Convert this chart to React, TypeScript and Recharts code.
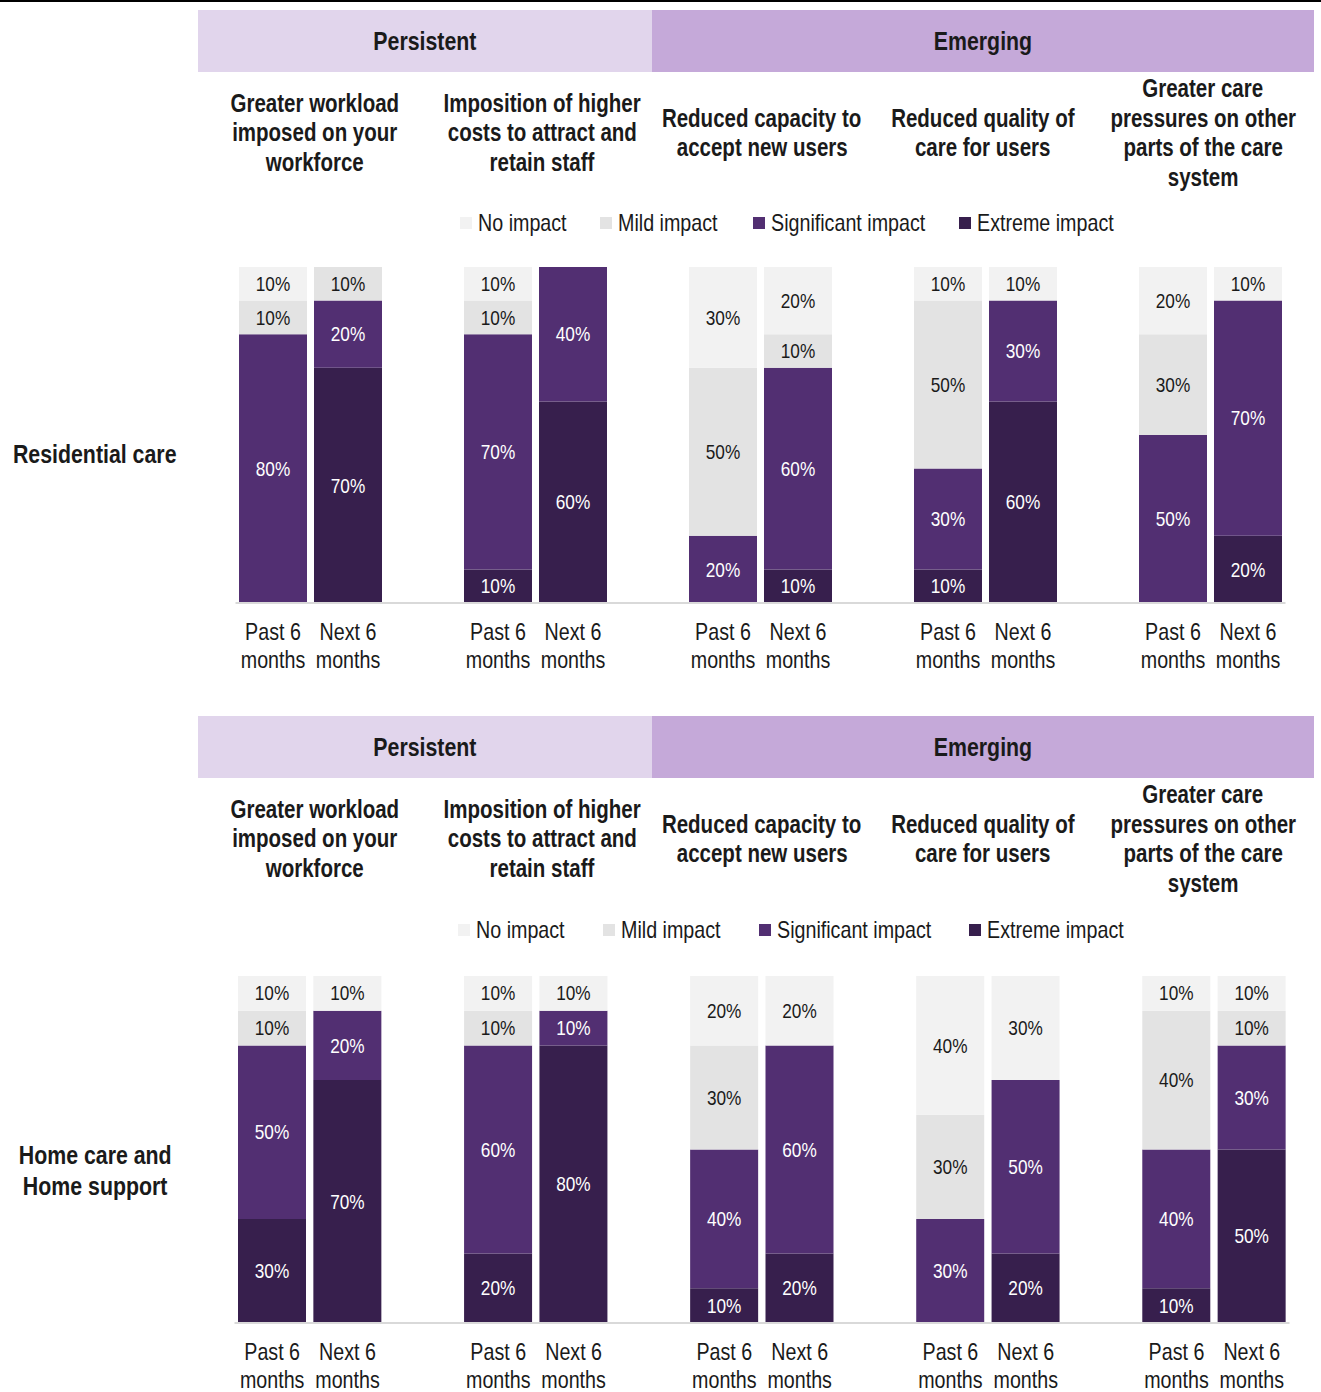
import React from 'react';
import { BarChart, Bar, XAxis, YAxis, LabelList } from 'recharts';

// Arial Narrow is not installed: Liberation Sans squeezed horizontally stands in for it
const FONT = "'Liberation Sans', Arial, sans-serif";
const SQUEEZE = 0.82;

const periods = ['Past 6 months', 'Next 6 months'];
const themes = ['Persistent', 'Emerging'];
const topicLines = [
  ['Greater workload', 'imposed on your', 'workforce'],
  ['Imposition of higher', 'costs to attract and', 'retain staff'],
  ['Reduced capacity to', 'accept new users'],
  ['Reduced quality of', 'care for users'],
  ['Greater care', 'pressures on other', 'parts of the care', 'system'],
];
// where each topic title sits (centre x)
const topicCentres = [315, 542, 762, 983, 1203];

// legend order as shown; stacking order is the reverse
const impactKeys = ['none', 'mild', 'significant', 'extreme'];
const impactNames = ['No impact', 'Mild impact', 'Significant impact', 'Extreme impact'];
const impactColors = ['#f2f2f2', '#e3e3e3', '#522f72', '#371f4d'];
const impactText = ['#1a1a1a', '#1a1a1a', '#ffffff', '#ffffff'];

// Residential care, 10 bars: (past, next) x 5 topics
const resNone = [10, 0, 10, 0, 30, 20, 10, 10, 20, 10];
const resMild = [10, 10, 10, 0, 50, 10, 50, 0, 30, 0];
const resSignificant = [80, 20, 70, 40, 20, 60, 30, 30, 50, 70];
const resExtreme = [0, 70, 10, 60, 0, 10, 10, 60, 0, 20];

// Home care and Home support
const homeNone = [10, 10, 10, 10, 20, 20, 40, 30, 10, 10];
const homeMild = [10, 0, 10, 0, 30, 0, 30, 0, 40, 10];
const homeSignificant = [50, 20, 60, 10, 40, 60, 30, 50, 40, 30];
const homeExtreme = [30, 70, 20, 80, 10, 20, 0, 20, 10, 50];

type Row = { key: string; label: string; [k: string]: any };

function buildRows(none: number[], mild: number[], significant: number[], extreme: number[]): Row[] {
  const rows: Row[] = [];
  topicLines.forEach((_, g) => {
    periods.forEach((p, j) => {
      const i = g * 2 + j;
      rows.push({ key: `b${i}`, label: p, none: none[i], mild: mild[i], significant: significant[i], extreme: extreme[i] });
    });
    // empty slot between topic groups
    if (g < topicLines.length - 1) rows.push({ key: `gap${g}`, label: '' });
  });
  return rows;
}

const Narrow = ({ children, origin = 'center' }: { children: React.ReactNode; origin?: string }) => (
  <span style={{ display: 'inline-block', whiteSpace: 'nowrap', transform: `scaleX(${SQUEEZE})`, transformOrigin: origin }}>{children}</span>
);

const PeriodTick = (props: any) => {
  const { x, y, payload, rows } = props;
  const row = rows.find((r: Row) => r.key === payload.value);
  if (!row || !row.label) return null;
  const cut = row.label.lastIndexOf(' ');
  const lines = [row.label.slice(0, cut), row.label.slice(cut + 1)];
  return (
    <text transform={`translate(${x},${y}) scale(${SQUEEZE},1)`} textAnchor="middle" fill="#1a1a1a" fontSize={24} fontFamily={FONT}>
      <tspan x={0} dy={37}>{lines[0]}</tspan>
      <tspan x={0} dy={28}>{lines[1]}</tspan>
    </text>
  );
};

const makeValueLabel = (color: string) => (p: any) => {
  const { value } = p;
  if (!value) return null;
  const vb = p.viewBox || p;
  const cx = vb.x + vb.width / 2;
  const cy = vb.y + vb.height / 2;
  return (
    <text transform={`translate(${cx},${cy}) scale(${SQUEEZE},1)`} textAnchor="middle" dominantBaseline="central" fill={color} fontSize={21} fontFamily={FONT}>
      {`${value}%`}
    </text>
  );
};

type PanelProps = {
  top: number;
  rowLabel: string[];
  rowLabelTop: number;
  rows: Row[];
  barsTop: number;
  plotHeight: number;
  plotLeft: number;
  plotWidth: number;
  legendLefts: number[];
  legendY: number;
};

const Panel = ({ top, rowLabel, rowLabelTop, rows, barsTop, plotHeight, plotLeft, plotWidth, legendLefts, legendY }: PanelProps) => {
  const W = 1321;
  const chartH = barsTop + plotHeight + 80;
  const band = { position: 'absolute' as const, top: 0, height: 62, display: 'flex', alignItems: 'center', justifyContent: 'center', fontFamily: FONT, fontWeight: 'bold' as const, fontSize: 26, color: '#1a1a1a' };
  return (
    <div style={{ position: 'absolute', left: 0, top, width: W, height: chartH }}>
      <div style={{ ...band, left: 198, width: 454, background: '#e1d5ec' }}>
        <Narrow>{themes[0]}</Narrow>
      </div>
      <div style={{ ...band, left: 652, width: 662, background: '#c5a9d9' }}>
        <Narrow>{themes[1]}</Narrow>
      </div>

      {topicLines.map((lines, g) => (
        <div key={g} style={{ position: 'absolute', left: topicCentres[g] - 150, width: 300, top: 123 - (lines.length * 29.5) / 2, textAlign: 'center', fontFamily: FONT, fontWeight: 'bold', fontSize: 25, lineHeight: '29.5px', color: '#1a1a1a' }}>
          {lines.map((l, k) => <div key={k}><Narrow>{l}</Narrow></div>)}
        </div>
      ))}

      {impactNames.map((n, i) => (
        <div key={n} style={{ position: 'absolute', left: legendLefts[i], top: legendY - 14, height: 28, display: 'flex', alignItems: 'center', fontFamily: FONT, fontSize: 24, color: '#1a1a1a' }}>
          <span style={{ display: 'inline-block', width: 12, height: 12, background: impactColors[i], marginRight: 6 }} />
          <Narrow origin="left">{n}</Narrow>
        </div>
      ))}

      <div style={{ position: 'absolute', left: -55, width: 300, top: rowLabelTop, textAlign: 'center', fontFamily: FONT, fontWeight: 'bold', fontSize: 26, lineHeight: '31px', color: '#1a1a1a' }}>
        {rowLabel.map((l, k) => <div key={k}><Narrow>{l}</Narrow></div>)}
      </div>

      <div style={{ position: 'absolute', left: 0, top: 0 }}>
        <BarChart
          width={W}
          height={chartH}
          data={rows}
          margin={{ top: barsTop, left: plotLeft, right: W - plotLeft - plotWidth, bottom: 0 }}
          barCategoryGap={3.5}
        >
          <XAxis
            dataKey="key"
            interval={0}
            tickSize={0}
            tickMargin={0}
            height={80}
            tickLine={false}
            axisLine={{ stroke: '#d9d9d9', strokeWidth: 2 }}
            tick={<PeriodTick rows={rows} />}
          />
          <YAxis hide type="number" domain={[0, 100]} />
          {[...impactKeys].reverse().map((k) => {
            const i = impactKeys.indexOf(k);
            return (
              <Bar key={k} dataKey={k} stackId="s" fill={impactColors[i]} isAnimationActive={false}>
                <LabelList dataKey={k} position="center" content={makeValueLabel(impactText[i])} />
              </Bar>
            );
          })}
        </BarChart>
      </div>
    </div>
  );
};

const residentialRows = buildRows(resNone, resMild, resSignificant, resExtreme);
const homeRows = buildRows(homeNone, homeMild, homeSignificant, homeExtreme);

export default function App() {
  return (
    <div style={{ position: 'absolute', left: 0, top: 0, width: 1321, height: 1392, background: '#fff', overflow: 'hidden' }}>
      <div style={{ position: 'absolute', left: 0, top: 0, width: 1321, height: 2, background: '#000' }} />
      <Panel
        top={10}
        rowLabel={['Residential care']}
        rowLabelTop={429}
        rows={residentialRows}
        barsTop={257}
        plotHeight={336}
        plotLeft={235.5}
        plotWidth={1050}
        legendLefts={[460, 600, 753, 959]}
        legendY={213}
      />
      <Panel
        top={716}
        rowLabel={['Home care and', 'Home support']}
        rowLabelTop={424}
        rows={homeRows}
        barsTop={260}
        plotHeight={347}
        plotLeft={234.5}
        plotWidth={1055}
        legendLefts={[458, 603, 759, 969]}
        legendY={214}
      />
    </div>
  );
}
